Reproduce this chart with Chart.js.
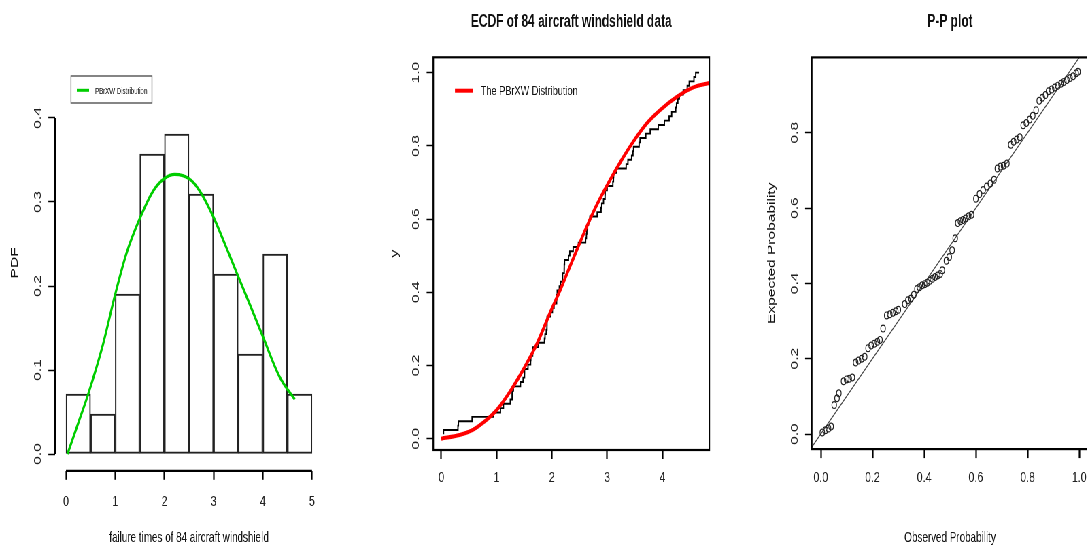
<!DOCTYPE html>
<html>
<head>
<meta charset="utf-8">
<script src="https://cdn.jsdelivr.net/npm/chart.js@4"></script>
<style>
html, body { margin: 0; padding: 0; background: #fff; overflow: hidden; width: 1087px; height: 547px; }
/* the reference figure is squeezed horizontally, so draw wide and squeeze */
#wrap { position: absolute; left: 0; top: 0; width: 1599px; height: 547px; transform: scaleX(0.68); transform-origin: 0 0; }
canvas { position: absolute; top: 0; }
</style>
</head>
<body>
<div id="wrap">
  <canvas id="histChart" width="530" height="547" style="left:0"></canvas>
  <canvas id="ecdfChart" width="536" height="547" style="left:530px"></canvas>
  <canvas id="ppChart" width="560" height="547" style="left:1066px"></canvas>
</div>
<script>
// histogram of the 84 failure times (bin width 0.5)
const binMids = [0.25, 0.75, 1.25, 1.75, 2.25, 2.75, 3.25, 3.75, 4.25, 4.75];
const binDensity = [0.0714, 0.0476, 0.1905, 0.3571, 0.381, 0.3095, 0.2143, 0.119, 0.2381, 0.0714];

// fitted PBrXW density
const pdfX = [0.03, 0.25, 0.45, 0.75, 1.0, 1.23, 1.49, 1.77, 2.0, 2.21, 2.52, 2.72, 2.99, 3.25, 3.46, 3.75, 4.0, 4.34, 4.65];
const pdfY = [0.0, 0.037, 0.071, 0.13, 0.19, 0.239, 0.279, 0.313, 0.328, 0.333, 0.327, 0.313, 0.283, 0.247, 0.217, 0.176, 0.14, 0.092, 0.065];

// failure times of 84 aircraft windshields (sorted)
const failureTimes = [
  0.040, 0.301, 0.309, 0.557, 0.943, 1.070, 1.124, 1.248, 1.281, 1.281,
  1.303, 1.432, 1.480, 1.505, 1.506, 1.568, 1.615, 1.619, 1.652, 1.652,
  1.757, 1.866, 1.876, 1.899, 1.911, 1.912, 1.914, 1.981, 2.010, 2.038,
  2.085, 2.089, 2.097, 2.135, 2.154, 2.190, 2.194, 2.223, 2.224, 2.229,
  2.300, 2.324, 2.385, 2.481, 2.610, 2.625, 2.632, 2.646, 2.661, 2.688,
  2.820, 2.890, 2.902, 2.934, 2.962, 2.964, 3.000, 3.103, 3.114, 3.117,
  3.166, 3.344, 3.376, 3.443, 3.467, 3.478, 3.578, 3.595, 3.699, 3.779,
  3.924, 4.035, 4.121, 4.167, 4.240, 4.255, 4.278, 4.305, 4.376, 4.449,
  4.485, 4.570, 4.602, 4.663
];

// fitted PBrXW cdf
const cdfX = [0, 0.33, 0.57, 0.76, 1.0, 1.24, 1.48, 1.72, 1.99, 2.15, 2.30, 2.45, 2.63, 2.81, 3.02, 3.26, 3.47, 3.72, 3.96, 4.26, 4.56, 4.85];
const cdfY = [0, 0.01, 0.024, 0.044, 0.078, 0.128, 0.188, 0.256, 0.352, 0.406, 0.461, 0.515, 0.579, 0.638, 0.698, 0.761, 0.811, 0.862, 0.898, 0.934, 0.96, 0.972];

// P-P plot points
const ppObserved = [
  0.006, 0.018, 0.03, 0.04, 0.052, 0.063, 0.07, 0.088, 0.1, 0.11,
  0.122, 0.135, 0.146, 0.158, 0.17, 0.183, 0.195, 0.207, 0.219, 0.229,
  0.241, 0.255, 0.267, 0.279, 0.29, 0.3, 0.325, 0.337, 0.349, 0.36,
  0.372, 0.382, 0.392, 0.402, 0.412, 0.422, 0.432, 0.442, 0.452, 0.462,
  0.47, 0.486, 0.497, 0.508, 0.52, 0.53, 0.54, 0.55, 0.56, 0.572,
  0.583, 0.6, 0.614, 0.628, 0.642, 0.656, 0.67, 0.683, 0.695, 0.707,
  0.72, 0.735, 0.746, 0.758, 0.77, 0.783, 0.795, 0.808, 0.82, 0.833,
  0.845, 0.857, 0.869, 0.881, 0.893, 0.905, 0.917, 0.929, 0.94, 0.952,
  0.964, 0.976, 0.988, 0.995
];
const ppExpected = [
  0.004, 0.01, 0.015, 0.02, 0.077, 0.095, 0.108, 0.14, 0.145, 0.147,
  0.15, 0.19, 0.195, 0.2, 0.205, 0.228, 0.235, 0.24, 0.245, 0.25,
  0.28, 0.315, 0.318, 0.322, 0.326, 0.33, 0.345, 0.355, 0.36, 0.37,
  0.385, 0.39, 0.395, 0.398, 0.402, 0.407, 0.412, 0.417, 0.421, 0.425,
  0.435, 0.46, 0.47, 0.488, 0.52, 0.56, 0.565, 0.568, 0.572, 0.578,
  0.582, 0.625, 0.637, 0.648, 0.657, 0.665, 0.675, 0.705, 0.71, 0.712,
  0.718, 0.768, 0.776, 0.782, 0.788, 0.82, 0.826, 0.835, 0.845, 0.86,
  0.885, 0.893, 0.9, 0.91, 0.915, 0.92, 0.925, 0.93, 0.935, 0.94,
  0.945, 0.95, 0.958, 0.962
];
const refLine = [-0.1, 1.1];

const histXTicks = [0, 1, 2, 3, 4, 5];
const histYTicks = [0, 0.1, 0.2, 0.3, 0.4];
const ecdfXTicks = [0, 1, 2, 3, 4];
const ecdfYTicks = [0, 0.2, 0.4, 0.6, 0.8, 1.0];
const ppXTicks = [0, 0.2, 0.4, 0.6, 0.8, 1.0];
const ppYTicks = [0, 0.2, 0.4, 0.6, 0.8];

Chart.defaults.font.family = '"Liberation Sans", Arial, Helvetica, sans-serif';
Chart.defaults.font.size = 15.5;
Chart.defaults.color = '#222';

const pairs = (xs, ys) => xs.map((x, i) => ({ x: x, y: ys[i] }));

// R-like extras: box or first-to-last-tick axis lines, main title, legend
const rStyle = {
  id: 'rStyle',
  afterDraw(chart, args, o) {
    const ctx = chart.ctx, a = chart.chartArea;
    const sx = chart.scales.x, sy = chart.scales.y;
    ctx.save();
    ctx.strokeStyle = '#000';
    ctx.lineWidth = 2.2;
    if (o.box) {
      ctx.strokeRect(a.left, a.top, a.width, a.height);
    } else {
      const tx = sx.ticks, ty = sy.ticks;
      ctx.beginPath();
      ctx.moveTo(sx.getPixelForValue(tx[0].value), a.bottom);
      ctx.lineTo(sx.getPixelForValue(tx[tx.length - 1].value), a.bottom);
      ctx.stroke();
      ctx.lineWidth = 3;
      ctx.beginPath();
      ctx.moveTo(a.left, sy.getPixelForValue(ty[0].value));
      ctx.lineTo(a.left, sy.getPixelForValue(ty[ty.length - 1].value));
      ctx.stroke();
    }
    if (o.title) {
      ctx.fillStyle = '#111';
      ctx.font = 'bold 17.6px ' + Chart.defaults.font.family;
      ctx.textAlign = 'center';
      ctx.textBaseline = 'middle';
      ctx.fillText(o.title, (a.left + a.right) / 2, o.titleY);
    }
    if (o.legend) {
      const L = o.legend, ds = chart.data.datasets[L.dataset];
      if (L.boxW) {
        ctx.lineWidth = 1.3;
        ctx.strokeStyle = '#444';
        ctx.strokeRect(L.boxX, L.boxY, L.boxW, L.boxH);
      }
      ctx.strokeStyle = ds.borderColor;
      ctx.lineWidth = L.lineWidth;
      ctx.beginPath();
      ctx.moveTo(L.x0, L.y);
      ctx.lineTo(L.x1, L.y);
      ctx.stroke();
      ctx.fillStyle = '#111';
      ctx.font = L.size + 'px ' + Chart.defaults.font.family;
      ctx.textAlign = 'left';
      ctx.textBaseline = 'middle';
      ctx.fillText(ds.label, L.tx, L.y + 1);
    }
    ctx.restore();
  }
};

function xAxis(min, max, ticks, fmt, height, pad, title) {
  return {
    type: 'linear', position: 'bottom', min: min, max: max,
    offset: false,
    afterBuildTicks: s => { s.ticks = ticks.map(v => ({ value: v })); },
    afterFit: s => { s.height = height; },
    grid: { offset: false, drawOnChartArea: false, drawTicks: true, tickLength: 9, tickColor: '#000', tickWidth: 2.2 },
    border: { display: false },
    ticks: { padding: pad, color: '#222', maxRotation: 0, autoSkip: false, callback: fmt },
    title: { display: !!title, text: title || '', color: '#111', font: { size: 14.5 }, padding: { top: 0, bottom: 0.3 } }
  };
}

function yAxis(min, max, ticks, fmt, width, pad, title, titlePad) {
  return {
    type: 'linear', position: 'left', min: min, max: max,
    afterBuildTicks: s => { s.ticks = ticks.map(v => ({ value: v })); },
    afterFit: s => { s.width = width; },
    grid: { drawOnChartArea: false, drawTicks: true, tickLength: 9.8, tickColor: '#000', tickWidth: 1.5 },
    border: { display: false },
    ticks: { minRotation: 90, maxRotation: 90, crossAlign: 'center', padding: pad, color: '#222', autoSkip: false, callback: fmt },
    title: { display: !!title, text: title || '', color: '#111', font: { size: 15.5 }, padding: { top: titlePad, bottom: 0 } }
  };
}

const oneDec = v => v.toFixed(1);
const noDec = v => v.toFixed(0);

// panel 1: histogram with fitted density
new Chart(document.getElementById('histChart'), {
  type: 'scatter',
  data: {
    datasets: [
      {
        type: 'line',
        label: 'PBrXW Distribution',
        data: pairs(pdfX, pdfY),
        borderColor: '#00cd00',
        borderWidth: 3.2,
        pointRadius: 0,
        cubicInterpolationMode: 'monotone',
        fill: false,
        order: 0
      },
      {
        type: 'bar',
        label: 'hist',
        data: pairs(binMids, binDensity),
        backgroundColor: 'rgba(255,255,255,0)',
        borderColor: '#222',
        borderWidth: 1.4,
        borderSkipped: false,
        barPercentage: 1,
        categoryPercentage: 1,
        order: 1
      }
    ]
  },
  options: {
    responsive: false,
    devicePixelRatio: 1,
    animation: false,
    layout: { padding: { top: 55, left: 0, right: 55, bottom: 0 } },
    plugins: {
      legend: { display: false },
      tooltip: { enabled: false },
      rStyle: {
        box: false,
        legend: { dataset: 0, boxX: 104.4, boxY: 76, boxW: 119.1, boxH: 27, x0: 113, x1: 131, y: 90.3, lineWidth: 3, tx: 139.7, size: 9 }
      }
    },
    scales: {
      x: xAxis(-0.223, 5.223, histXTicks, noDec, 76.2, 12.6, 'failure times of 84 aircraft windshield'),
      y: yAxis(-0.02, 0.475, histYTicks, oneDec, 80.9, 4.7, 'PDF', 12.8)
    }
  },
  plugins: [rStyle]
});

// panel 2: ECDF with fitted cdf
new Chart(document.getElementById('ecdfChart'), {
  type: 'scatter',
  data: {
    datasets: [
      {
        type: 'line',
        label: 'The PBrXW Distribution',
        data: pairs(cdfX, cdfY),
        borderColor: '#ff0000',
        borderWidth: 4,
        pointRadius: 0,
        cubicInterpolationMode: 'monotone',
        fill: false,
        order: 0
      },
      {
        type: 'line',
        label: 'ecdf',
        data: failureTimes.map((t, i) => ({ x: t, y: (i + 1) / failureTimes.length })),
        borderColor: '#000',
        borderWidth: 1.9,
        pointRadius: 0,
        stepped: 'after',
        fill: false,
        order: 1
      }
    ]
  },
  options: {
    responsive: false,
    devicePixelRatio: 1,
    animation: false,
    layout: { padding: { top: 57.3, left: 0, right: 22.9, bottom: 0 } },
    plugins: {
      legend: { display: false },
      tooltip: { enabled: false },
      rStyle: {
        box: true,
        title: 'ECDF of 84 aircraft windshield data',
        titleY: 21.7,
        legend: { dataset: 0, x0: 139.1, x1: 165.6, y: 90.7, lineWidth: 4, tx: 176.9, size: 13.5 }
      }
    },
    scales: {
      x: xAxis(-0.145, 4.848, ecdfXTicks, noDec, 97, 9.7, ''),
      y: yAxis(-0.031, 1.042, ecdfYTicks, oneDec, 107.2, 4.8, 'y', 41.7)
    }
  },
  plugins: [rStyle]
});

// panel 3: P-P plot
new Chart(document.getElementById('ppChart'), {
  type: 'scatter',
  data: {
    datasets: [
      {
        label: 'P-P',
        data: pairs(ppObserved, ppExpected),
        pointStyle: 'circle',
        pointRadius: 3.4,
        pointBorderWidth: 1.2,
        pointBorderColor: '#222',
        pointBackgroundColor: 'rgba(255,255,255,0)',
        order: 0
      },
      {
        type: 'line',
        label: 'ref',
        data: pairs(refLine, refLine),
        borderColor: '#444',
        borderWidth: 1.2,
        pointRadius: 0,
        fill: false,
        order: 1
      }
    ]
  },
  options: {
    responsive: false,
    devicePixelRatio: 1,
    animation: false,
    layout: { padding: { top: 57.4, left: 0, right: 25.5, bottom: 0 } },
    plugins: {
      legend: { display: false },
      tooltip: { enabled: false },
      rStyle: { box: true, title: 'P-P plot', titleY: 22 }
    },
    scales: {
      x: xAxis(-0.035, 1.035, ppXTicks, oneDec, 97.9, 10.6, 'Observed Probability'),
      y: yAxis(-0.04, 1.0, ppYTicks, oneDec, 127.7, 4.0, 'Expected Probability', 59.7)
    }
  },
  plugins: [rStyle]
});
</script>
</body>
</html>
